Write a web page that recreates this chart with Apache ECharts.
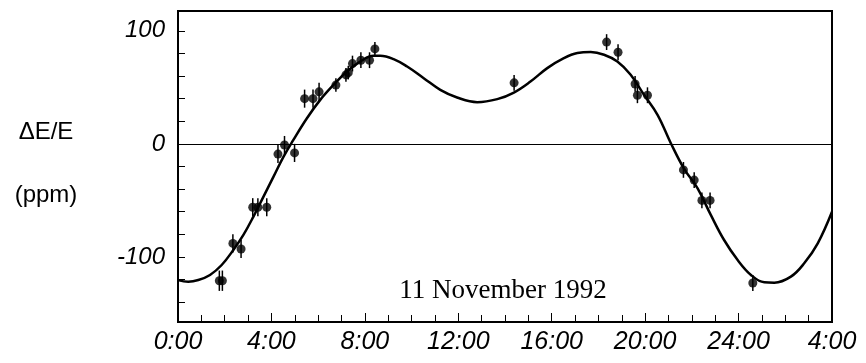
<!DOCTYPE html>
<html><head><meta charset="utf-8">
<script src="https://cdn.jsdelivr.net/npm/echarts@6/dist/echarts.min.js"></script>
<style>html,body{margin:0;padding:0;background:#fff}#c{width:866px;height:363px}</style>
</head><body><div id="c"></div>
<script>
// x tick labels (hours 0..28 every 4)
const xTickLabels = ['0:00','4:00','8:00','12:00','16:00','20:00','24:00','4:00'];
const yTickValues = [-140,-120,-100,-80,-60,-40,-20,0,20,40,60,80,100];
const yLabelValues = [-100,0,100];

// measured points (hours, ppm, error)
const ptHours = [1.77,1.90,2.35,2.70,3.20,3.42,3.80,4.28,4.56,4.99,5.42,5.78,6.04,6.76,7.19,7.29,7.47,7.83,8.20,8.43,14.39,18.35,18.84,19.57,19.67,20.10,21.64,22.10,22.43,22.78,24.61];
const ptValues = [-121,-121,-88,-93,-56,-56,-56,-9,-1,-8,40,40,46,52,61,63,71,74,74,84,54,90,81,53,43,43,-23,-32,-50,-50,-123];
const ptErrors = [9,9,8,8,8,8,8,8,8,8,8,8,8,6,6,6,7,7,7,6,7,7,7,7,7,7,7,7,7,7,7];

// fitted curve
const curveHours = [0,0.44,0.87,1.37,1.87,2.37,2.80,3.23,3.66,4.09,4.52,4.94,5.52,6.09,6.66,7.23,7.80,8.37,8.66,9.23,9.81,10.52,11.23,11.95,12.81,13.67,14.38,15.09,15.81,16.52,17.10,17.67,18.24,18.81,19.38,19.95,20.53,21.10,21.67,22.24,22.81,23.38,23.96,24.53,25.10,25.53,26.24,26.81,27.39,28];
const curveValues = [-120.5,-121.9,-120.4,-115.9,-107.1,-93.8,-80.5,-64.3,-46.6,-28.9,-11.2,3.5,22.7,38.9,52.2,64.0,72.8,77.9,77.9,75.0,68.4,58.1,47.8,41.0,36.9,39.6,45.4,55.1,67.0,75.8,80.3,81.2,78.8,72.8,61.1,43.4,25.7,0.6,-22.1,-39.2,-62.8,-85.0,-102.7,-115.9,-122.4,-122.7,-117.4,-105.6,-87.9,-60.0];

const curveData = curveHours.map((h,i)=>[h, curveValues[i]]);
const ptData = ptHours.map((h,i)=>[h, ptValues[i], ptErrors[i]]);

const chart = echarts.init(document.getElementById('c'));
chart.setOption({
  animation:false,
  backgroundColor:'#fff',
  grid:{left:178,right:34,top:11,bottom:41,show:true,borderColor:'#000',borderWidth:2,backgroundColor:'transparent'},
  xAxis:{type:'value',min:0,max:28,interval:4,
    axisLine:{show:false,onZero:false},
    axisTick:{show:true,inside:true,length:9,lineStyle:{color:'#000',width:1}},
    minorTick:{show:true,splitNumber:4,length:7,lineStyle:{color:'#000',width:1}},
    splitLine:{show:false},
    axisLabel:{margin:8,fontFamily:'Liberation Sans',fontStyle:'italic',fontSize:25,color:'#000',
      formatter:v=>xTickLabels[Math.round(v/4)]}
  },
  yAxis:{type:'value',min:-157.5,max:117.5,
    axisLine:{show:false,onZero:false},
    axisTick:{show:true,inside:true,length:7,customValues:yTickValues,lineStyle:{color:'#000',width:1}},
    splitLine:{show:false},
    axisLabel:{margin:13,fontFamily:'Liberation Sans',fontStyle:'italic',fontSize:24,color:'#000',customValues:yLabelValues}
  },
  graphic:[
    {type:'text',x:46,y:132,style:{text:'\u0394E/E',font:'24px "Liberation Sans"',fill:'#000',textAlign:'center',textVerticalAlign:'middle'}},
    {type:'text',x:46,y:195,style:{text:'(ppm)',font:'24px "Liberation Sans"',fill:'#000',textAlign:'center',textVerticalAlign:'middle'}},
    {type:'text',x:503,y:291,style:{text:'11 November 1992',font:'27px "Liberation Serif"',fill:'#000',textAlign:'center',textVerticalAlign:'middle'}}
  ],
  series:[
    {type:'line',data:curveData,smooth:0.4,symbol:'none',lineStyle:{color:'#000',width:2.5},
      markLine:{silent:true,symbol:'none',label:{show:false},lineStyle:{color:'#000',width:1,type:'solid'},data:[{yAxis:0}]},z:2},
    {type:'custom',data:ptData,encode:{x:0,y:1},z:3,
      renderItem:function(params,api){
        const x=api.value(0), y=api.value(1), e=api.value(2);
        const p1=api.coord([x,y-e]), p2=api.coord([x,y+e]);
        return {type:'line',shape:{x1:p1[0],y1:p1[1],x2:p2[0],y2:p2[1]},style:{stroke:'#000',lineWidth:1.5}};
      }},
    {type:'scatter',data:ptData.map(d=>[d[0],d[1]]),symbol:'circle',symbolSize:9,itemStyle:{color:'#000'},z:4}
  ]
});
</script></body></html>
